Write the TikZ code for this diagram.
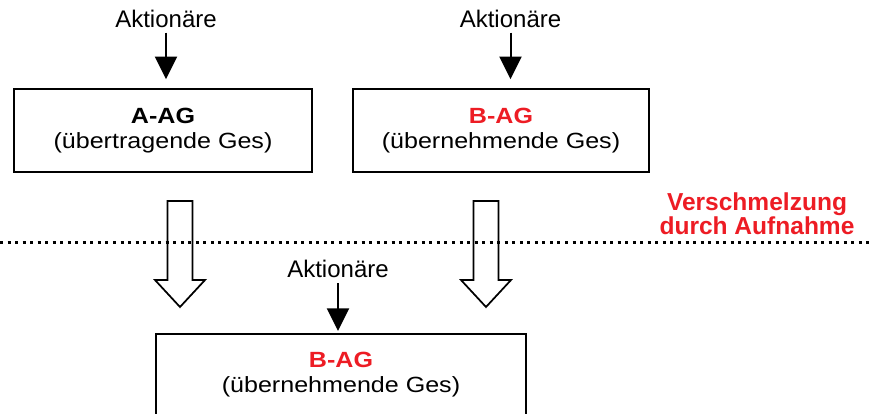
\documentclass[tikz,border=0pt]{standalone}
\usepackage{fontspec}
\setmainfont{Liberation Sans}
\newfontfamily\boxfont{Liberation Sans}[FakeStretch=1.14]
\usetikzlibrary{arrows.meta}
\definecolor{rot}{RGB}{237,28,36}

\begin{document}
\begin{tikzpicture}[x=0.75pt, y=-0.75pt,
    gesbox/.style={draw, line width=1.2pt, align=center, inner sep=0pt,
        font=\boxfont\fontsize{16.5}{18.75}\selectfont},
    aktlabel/.style={anchor=base, inner sep=0pt, font=\fontsize{18}{21}\selectfont},
    pfeil/.style={line width=1.5pt, -{Triangle[width=16.5pt,length=17pt]}, shorten <=3.75pt},
    hohl/.style={line width=1.3pt, line join=miter}]
    % Frame of the picture (872 x 414 px)
    \useasboundingbox (0,0) rectangle (872,414);
    \clip (0,0) rectangle (872,414);

    % Dotted separation line
    \coordinate (L) at (0,242);
    \coordinate (R) at (872,242);
    \draw[line width=2.25pt, dash pattern=on 2.25pt off 3.4pt] (L) -- (R);

    % The two companies before the merger
    \node[gesbox, minimum width=223.5pt, minimum height=62.25pt] (A) at (163,130.5)
        {{\bfseries A-AG}\\(übertragende Ges)};
    \node[gesbox, minimum width=222pt, minimum height=62.25pt] (B) at (501,130.5)
        {{\bfseries\color{rot}B-AG}\\(übernehmende Ges)};

    % The company after the merger
    \node[gesbox, minimum width=277.5pt, minimum height=61.5pt] (C) at (341,375)
        {{\bfseries\color{rot}B-AG}\\(übernehmende Ges)};

    % Shareholders
    \node[aktlabel] (aktA) at (166,27) {Aktionäre};
    \node[aktlabel] (aktB) at (510.5,27) {Aktionäre};
    \node[aktlabel] (aktC) at (338,277.7) {Aktionäre};

    \draw[pfeil, shorten >=6.75pt] (aktA.south) -- (aktA.south |- A.north);
    \draw[pfeil, shorten >=6.75pt] (aktB.south) -- (aktB.south |- B.north);
    \draw[pfeil, shorten >=1.7pt] (aktC.south) -- (aktC.south |- C.north);

    % Hollow arrows across the line
    \foreach \xm in {180,486} {
        \draw[hohl] (\xm-12.5,201) -- (\xm+12.5,201) -- (\xm+12.5,280) -- (\xm+25,280)
            -- (\xm,307) -- (\xm-25,280) -- (\xm-12.5,280) -- cycle;
    }

    % Label of the merger type
    \node[align=center, inner sep=0pt, text=rot,
        font=\bfseries\fontsize{18.4}{17.6}\selectfont] (art) at (757,213.8)
        {Verschmelzung\\durch Aufnahme};
\end{tikzpicture}
\end{document}
